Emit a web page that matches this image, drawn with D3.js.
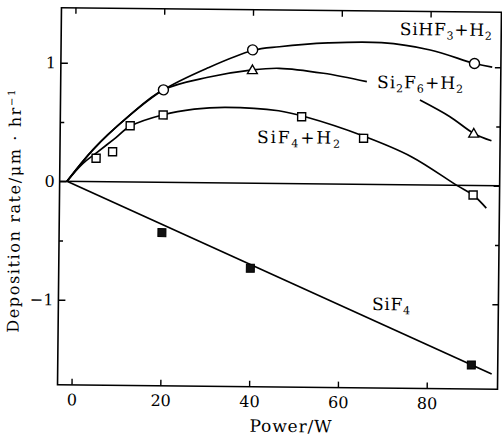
<!DOCTYPE html>
<html><head><meta charset="utf-8">
<script src="https://cdn.jsdelivr.net/npm/d3@7"></script>
<style>body{margin:0;background:#fff} svg{display:block}</style>
</head><body>
<svg id="c" width="502" height="441"></svg>
<script>
// ---- data ----
const xTicks = [0, 20, 40, 60, 80];
const yTicksMajor = [-1, 0, 1];
const yTicksMinor = [-0.5, 0.5];

// measured points
const sihf3Power = [20, 40, 90];
const sihf3Rate  = [0.78, 1.125, 1.03];
const si2f6Power = [40, 90];
const si2f6Rate  = [0.956, 0.44];
const sif4h2Power = [5, 8.7, 12.6, 20, 51.2, 65.2, 90];
const sif4h2Rate  = [0.197, 0.253, 0.474, 0.568, 0.565, 0.389, -0.08];
const sif4Power = [20, 40, 90];
const sif4Rate  = [-0.425, -0.718, -1.515];

// smooth fitted curves as drawn in the figure
const sihf3CurveP = [-1.5, 4.3, 11.8, 20, 30, 40, 46, 57, 69, 80, 90, 94];
const sihf3CurveV = [0, 0.27, 0.54, 0.78, 0.97, 1.12, 1.154, 1.19, 1.197, 1.14, 1.03, 1.0];
const si2f6CurveP = [-1.5, 4.3, 11.8, 20, 30, 40, 46, 56, 65.8, 72, 77.8, 84.6, 90, 94];
const si2f6CurveV = [0, 0.27, 0.54, 0.78, 0.89, 0.956, 0.972, 0.934, 0.867, null, 0.717, 0.579, 0.44, 0.38];
const sif4h2CurveP = [-1.5, 2, 5, 9, 12.6, 20, 27, 34, 46, 52, 65, 76, 86.3, 90, 93];
const sif4h2CurveV = [0, 0.15, 0.24, 0.36, 0.47, 0.57, 0.62, 0.638, 0.614, 0.565, 0.41, 0.238, 0, -0.08, -0.19];
const sif4LineP = [-1.5, 94.6];
const sif4LineV = [0, -1.589];

// labels
const labelNames = ["SiHF3+H2", "Si2F6+H2", "SiF4+H2", "SiF4"];
const labelParts = [
  [["SiHF",0],["3",1],["+H",0],["2",1]],
  [["Si",0],["2",1],["F",0],["6",1],["+H",0],["2",1]],
  [["SiF",0],["4",1],["+H",0],["2",1]],
  [["SiF",0],["4",1]]
];
const labelPower = [73.1, 68.1, 41.2, 67.5];
const labelRate  = [1.264, 0.814, 0.34, -1.059];
const labelWidth = [92, 86, 83, 38];

const xTitle = "Power/W";
const yTitle = "Deposition rate/μm · hr";

// ---- drawing ----
const svg = d3.select("#c");
svg.append("rect").attr("width",502).attr("height",441).attr("fill","#fff");
const FONT = "'DejaVu Serif', 'Liberation Serif', serif";
const L = 59.5, R = 499.5, T = 10, B = 387;
const x = d3.scaleLinear().domain([-3.153, 95.95]).range([L, R]);
const y = d3.scaleLinear().domain([-1.717, 1.464]).range([B, T]);

const g = svg.append("g").attr("transform", "rotate(0.6 280 197)");

// frame
g.append("rect").attr("x", L).attr("y", T).attr("width", R-L).attr("height", B-T)
  .attr("fill","none").attr("stroke","#000").attr("stroke-width",1.6);

function styleAxis(sel, showText) {
  sel.select(".domain").remove();
  sel.selectAll(".tick line").attr("stroke","#000").attr("stroke-width",1.4);
  sel.selectAll(".tick text").attr("font-family",FONT).attr("font-size",16).attr("fill","#000");
  if (!showText) sel.selectAll(".tick text").remove();
}
// bottom
g.append("g").attr("transform",`translate(0,${B})`)
  .call(d3.axisBottom(x).tickValues(xTicks).tickSize(-6).tickPadding(9).tickFormat(d3.format("d")))
  .call(s => styleAxis(s, true));
// top
g.append("g").attr("transform",`translate(0,${T})`)
  .call(d3.axisTop(x).tickValues(xTicks).tickSize(-6))
  .call(s => styleAxis(s, false));
// left
g.append("g").attr("transform",`translate(${L},0)`)
  .call(d3.axisLeft(y).tickValues(yTicksMajor).tickSize(-7).tickPadding(5).tickFormat(d3.format("d")))
  .call(s => styleAxis(s, true));
g.append("g").attr("transform",`translate(${L},0)`)
  .call(d3.axisLeft(y).tickValues(yTicksMinor).tickSize(-4))
  .call(s => styleAxis(s, false));
// right
g.append("g").attr("transform",`translate(${R},0)`)
  .call(d3.axisRight(y).tickValues(yTicksMajor).tickSize(-6))
  .call(s => styleAxis(s, false));
g.append("g").attr("transform",`translate(${R},0)`)
  .call(d3.axisRight(y).tickValues(yTicksMinor).tickSize(-4))
  .call(s => styleAxis(s, false));

// zero line
g.append("line").attr("x1",L).attr("x2",R).attr("y1",y(0)).attr("y2",y(0))
  .attr("stroke","#000").attr("stroke-width",1.6);

// curves
const zip = (P, V) => P.map((p,i) => ({p, v: V[i]}));
const smooth = d3.line().defined(d => d.v !== null)
  .x(d => x(d.p)).y(d => y(d.v)).curve(d3.curveCatmullRom.alpha(0.5));
const straight = d3.line().x(d => x(d.p)).y(d => y(d.v));
[[sihf3CurveP, sihf3CurveV], [si2f6CurveP, si2f6CurveV], [sif4h2CurveP, sif4h2CurveV]].forEach(([P,V]) => {
  g.append("path").attr("d", smooth(zip(P,V))).attr("fill","none")
   .attr("stroke","#000").attr("stroke-width",1.7);
});
g.append("path").attr("d", straight(zip(sif4LineP, sif4LineV))).attr("fill","none")
  .attr("stroke","#000").attr("stroke-width",1.7);

// markers
g.selectAll(".circ").data(zip(sihf3Power, sihf3Rate)).join("circle")
  .attr("cx", d => x(d.p)).attr("cy", d => y(d.v)).attr("r", 5)
  .attr("fill","#fff").attr("stroke","#000").attr("stroke-width",1.4);
const tri = d3.symbol().type(d3.symbolTriangle).size(42);
g.selectAll(".tri").data(zip(si2f6Power, si2f6Rate)).join("path")
  .attr("transform", d => `translate(${x(d.p)},${y(d.v)+0.8})`).attr("d", tri)
  .attr("fill","#fff").attr("stroke","#000").attr("stroke-width",1.4);
g.selectAll(".sq").data(zip(sif4h2Power, sif4h2Rate)).join("rect")
  .attr("x", d => x(d.p)-4).attr("y", d => y(d.v)-4).attr("width",8).attr("height",8)
  .attr("fill","#fff").attr("stroke","#000").attr("stroke-width",1.4);
g.selectAll(".fsq").data(zip(sif4Power, sif4Rate)).join("rect")
  .attr("x", d => x(d.p)-4).attr("y", d => y(d.v)-4).attr("width",8).attr("height",8)
  .attr("fill","#111").attr("stroke","#000").attr("stroke-width",1);

// labels
labelNames.forEach((name, i) => {
  const t = g.append("text").attr("x", x(labelPower[i])).attr("y", y(labelRate[i]))
    .attr("font-family", FONT).attr("font-size", 17).attr("fill","#000")
    .attr("textLength", labelWidth[i]).attr("lengthAdjust","spacing");
  let shifted = false;
  labelParts[i].forEach(([s, sub]) => {
    const ts = t.append("tspan").text(s);
    if (sub) { ts.attr("font-size", 11).attr("dy", shifted ? 0 : 4); shifted = true; }
    else { if (shifted) ts.attr("dy", -4); shifted = false; }
  });
});

// axis titles
g.append("text").attr("x", 293).attr("y", 432).attr("text-anchor","middle")
  .attr("font-family", FONT).attr("font-size", 17).attr("fill","#000")
  .attr("textLength", 82).attr("lengthAdjust","spacing").text(xTitle);
const yt = g.append("text").attr("transform","translate(20,214) rotate(-90)")
  .attr("text-anchor","middle").attr("font-family", FONT).attr("font-size", 16).attr("fill","#000")
  .attr("textLength", 243).attr("lengthAdjust","spacing");
yt.append("tspan").text(yTitle);
yt.append("tspan").attr("font-size", 10).attr("dy", -6).text("−1");
</script>
</body></html>
